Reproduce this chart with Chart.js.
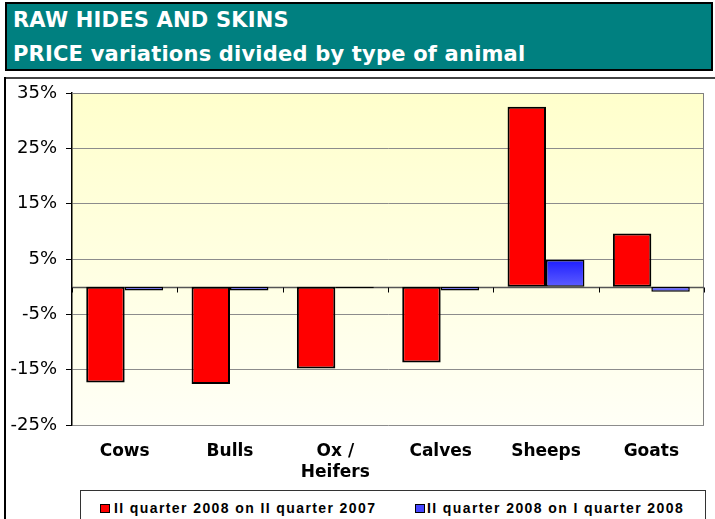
<!DOCTYPE html>
<html>
<head>
<meta charset="utf-8">
<script src="https://cdn.jsdelivr.net/npm/chart.js@4.4.1/dist/chart.umd.min.js"></script>
<style>
  body { margin: 0; width: 715px; height: 519px; overflow: hidden; background: #fff; position: relative; font-family: "DejaVu Sans", sans-serif; }
  #header { position: absolute; left: 5px; top: 2px; width: 704px; height: 65px; background: #008080; border: 2.5px solid #000; }
  .title { position: absolute; left: 13px; color: #fff; font-weight: bold; font-size: 21px; line-height: 21px; letter-spacing: 0.2px; white-space: nowrap; }
  #frameTop { position: absolute; left: 5px; top: 77px; width: 710px; height: 2px; background: #444; }
  #frameLeft { position: absolute; left: 4px; top: 77px; width: 2px; height: 442px; background: #000; }
  #wrap { position: absolute; left: 0; top: 0; width: 715px; height: 519px; }
  #legend { position: absolute; left: 80px; top: 490px; width: 624px; height: 40px; border: 1px solid #333; background: #fff; }
  .item { position: absolute; top: 10px; font-family: "Liberation Sans", Arial, sans-serif; font-weight: bold; font-size: 14px; line-height: 14px; letter-spacing: 1.4px; white-space: nowrap; }
  .box { position: absolute; top: 3px; width: 8px; height: 7px; border: 1px solid #000; }
</style>
</head>
<body>
<div id="header"></div>
<div class="title" style="top:10px">RAW HIDES AND SKINS</div>
<div class="title" style="top:44px">PRICE variations divided by type of animal</div>
<div id="frameTop"></div>
<div id="frameLeft"></div>
<div id="wrap"><canvas id="chart" width="715" height="519"></canvas></div>
<div id="legend"></div>
<script>
// categorie e valori
const categories = ["Cows", "Bulls", ["Ox /", "Heifers"], "Calves", "Sheeps", "Goats"];
const seriesNames = ["II quarter 2008 on II quarter 2007", "II quarter 2008 on I quarter 2008"];
const yoyValues = [-17.3, -17.6, -14.8, -13.7, 32.5, 9.6];
const qoqValues = [-0.7, -0.7, -0.3, -0.7, 4.8, -0.9];
const yTicks = [-25, -15, -5, 5, 15, 25, 35];

// sfondo giallo sfumato dell'area del grafico
const plotBg = {
  id: "plotBg",
  beforeDraw(chart) {
    const { ctx, chartArea: a } = chart;
    const g = ctx.createLinearGradient(0, a.top, 0, a.bottom);
    g.addColorStop(0, "#ffffcc");
    g.addColorStop(1, "#fffff6");
    ctx.save();
    ctx.fillStyle = g;
    ctx.fillRect(a.left, a.top, a.right - a.left, a.bottom - a.top);
    ctx.restore();
  }
};

// linea dello zero, tacche tra le categorie e bordo grigio
const axisDecor = {
  id: "axisDecor",
  beforeDatasetsDraw(chart) {
    const { ctx, chartArea: a, scales } = chart;
    const y0 = Math.round(scales.y.getPixelForValue(0)) + 0.5;
    ctx.save();
    ctx.strokeStyle = "#808080";
    ctx.lineWidth = 1;
    ctx.beginPath();
    ctx.moveTo(a.left, a.top + 0.5);
    ctx.lineTo(a.right - 0.5, a.top + 0.5);
    ctx.lineTo(a.right - 0.5, a.bottom);
    ctx.stroke();
    ctx.strokeStyle = "#555";
    ctx.lineWidth = 1.5;
    ctx.beginPath();
    ctx.moveTo(a.left, y0);
    ctx.lineTo(a.right, y0);
    ctx.stroke();
    ctx.lineWidth = 1;
    ctx.strokeStyle = "#000";
    ctx.beginPath();
    for (let i = 0; i <= categories.length; i++) {
      let x;
      if (i === 0) x = a.left;
      else if (i === categories.length) x = a.right;
      else x = (scales.x.getPixelForValue(i - 1) + scales.x.getPixelForValue(i)) / 2;
      x = Math.round(x) + 0.5;
      ctx.moveTo(x, y0);
      ctx.lineTo(x, y0 + 5);
    }
    ctx.stroke();
    ctx.restore();
  }
};

function blueFill(c) {
  const chart = c.chart;
  if (!chart.chartArea) return "#4646ff";
  const y = chart.scales.y;
  const g = chart.ctx.createLinearGradient(0, y.getPixelForValue(5), 0, y.getPixelForValue(-1));
  g.addColorStop(0, "#1c1cff");
  g.addColorStop(1, "#6a6aff");
  return g;
}

const chart = new Chart(document.getElementById("chart"), {
  type: "bar",
  data: {
    labels: categories,
    datasets: [
      {
        label: seriesNames[0],
        data: yoyValues,
        backgroundColor: "#ff0000",
        borderColor: "#000",
        borderWidth: 2,
        borderSkipped: false,
        categoryPercentage: 0.73,
        barPercentage: 1.0
      },
      {
        label: seriesNames[1],
        data: qoqValues,
        backgroundColor: blueFill,
        borderColor: "#000",
        borderWidth: 1.5,
        borderSkipped: false,
        categoryPercentage: 0.73,
        barPercentage: 1.0
      }
    ]
  },
  options: {
    responsive: false,
    animation: false,
    layout: { padding: { top: 93, right: 11, left: 0, bottom: 34 } },
    plugins: { legend: { display: false }, tooltip: { enabled: false } },
    scales: {
      x: {
        grid: { display: false, drawTicks: false },
        border: { display: false },
        ticks: {
          color: "#000",
          padding: 16,
          maxRotation: 0,
          autoSkip: false,
          font: { family: "DejaVu Sans", size: 17, weight: "bold", lineHeight: 1.25 }
        },
        afterFit(s) { s.height = 60; }
      },
      y: {
        min: -25,
        max: 35,
        afterBuildTicks(s) { s.ticks = yTicks.map((v) => ({ value: v })); },
        grid: { color: "#8c8c8c", tickColor: "#000", tickLength: 6, lineWidth: 1 },
        border: { display: true, color: "#000", width: 1.5 },
        ticks: {
          color: "#000",
          padding: 9,
          font: { family: "DejaVu Sans", size: 18 },
          callback: (v) => v + "%"
        },
        afterFit(s) { s.width = 72; }
      }
    }
  },
  plugins: [plotBg, axisDecor]
});

// legenda con il riquadro, come nell'originale
const legend = document.getElementById("legend");
const legendPos = [{ box: 19, text: 33 }, { box: 334, text: 346 }];
chart.data.datasets.forEach((ds, i) => {
  const b = document.createElement("div");
  b.className = "box";
  b.style.left = legendPos[i].box + "px";
  b.style.top = "13px";
  b.style.background = i === 0 ? "#ff0000" : "#4646ff";
  legend.appendChild(b);
  const t = document.createElement("div");
  t.className = "item";
  t.style.left = legendPos[i].text + "px";
  t.textContent = ds.label;
  legend.appendChild(t);
});
</script>
</body>
</html>
